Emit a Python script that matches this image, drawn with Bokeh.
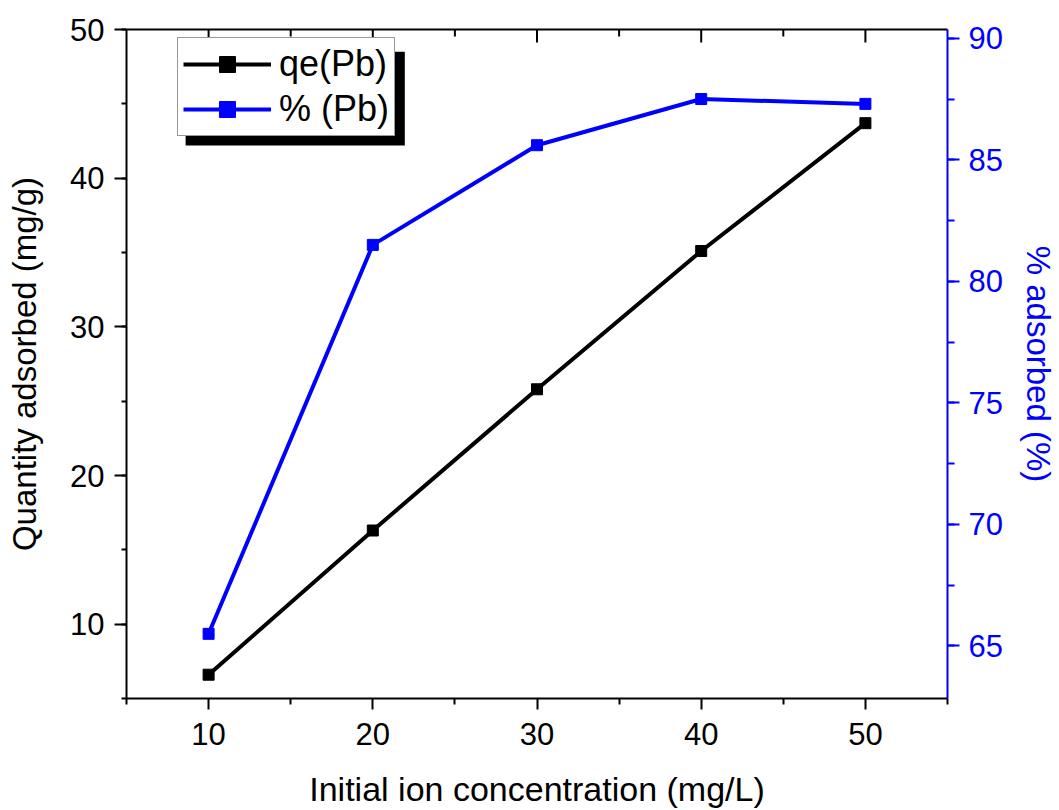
from bokeh.plotting import figure
from bokeh.models import (LinearAxis, Range1d, SingleIntervalTicker, FixedTicker,
                          Legend, LegendItem, BoxAnnotation)
from bokeh.embed import file_html
from bokeh.resources import INLINE

# ---- data ----
conc = [10, 20, 30, 40, 50]                 # Initial ion concentration (mg/L)
qe_pb = [6.6, 16.3, 25.8, 35.1, 43.7]       # Quantity adsorbed (mg/g)
pct_pb = [65.5, 81.5, 85.6, 87.5, 87.3]     # % adsorbed
x_major_ticks = [10, 20, 30, 40, 50]
x_minor_ticks = [5, 15, 25, 35, 45, 55]

FONT = "Liberation Sans"
BLUE = "#0000FF"
TICK_FS = "31px"
LABEL_FS = "34px"

X0, X1 = 5, 55
Y0, Y1 = 5, 50
FRAME_H = 810 - 29 - 111

p = figure(width=1059, height=810, output_backend="svg", toolbar_location=None,
           x_range=Range1d(X0, X1), y_range=Range1d(Y0, Y1),
           x_axis_location=None, y_axis_location=None,
           min_border_left=126, min_border_right=111,
           min_border_top=29, min_border_bottom=111)
p.extra_y_ranges = {"pct": Range1d(62.84, 90.36)}
p.outline_line_color = None
p.xgrid.visible = False
p.ygrid.visible = False
p.background_fill_color = "white"
p.border_fill_color = "white"


def style(ax, tick_in=0, tick_out=0, mtick_in=0, mtick_out=0, color="black"):
    ax.axis_line_color = color
    ax.axis_line_width = 2
    ax.major_tick_line_color = color
    ax.minor_tick_line_color = color
    ax.major_tick_line_width = 2
    ax.minor_tick_line_width = 2
    ax.major_tick_in = tick_in
    ax.major_tick_out = tick_out
    ax.minor_tick_in = mtick_in
    ax.minor_tick_out = mtick_out
    ax.major_label_text_font = FONT
    ax.major_label_text_font_size = TICK_FS
    ax.major_label_text_color = color
    ax.axis_label_text_font = FONT
    ax.axis_label_text_font_size = LABEL_FS
    ax.axis_label_text_font_style = "normal"
    ax.axis_label_text_color = color


bottom = LinearAxis(ticker=FixedTicker(ticks=x_major_ticks, minor_ticks=x_minor_ticks),
                    axis_label="Initial ion concentration (mg/L)")
style(bottom, tick_out=11, mtick_out=6)
bottom.major_label_standoff = 13
bottom.axis_label_standoff = 22
p.add_layout(bottom, "below")

# top frame line (no labels)
top = LinearAxis(ticker=FixedTicker(ticks=[], minor_ticks=[]))
style(top)
p.add_layout(top, "above")

# inward ticks on the top frame line, placed at the x tick values
unit = (Y1 - Y0) / FRAME_H
top_minor = x_minor_ticks[1:-1]
p.segment(x0=x_major_ticks, y0=[Y1] * len(x_major_ticks),
          x1=x_major_ticks, y1=[Y1 - 13 * unit] * len(x_major_ticks),
          line_color="black", line_width=2)
p.segment(x0=top_minor, y0=[Y1] * len(top_minor),
          x1=top_minor, y1=[Y1 - 7 * unit] * len(top_minor),
          line_color="black", line_width=2)

left = LinearAxis(ticker=SingleIntervalTicker(interval=10, num_minor_ticks=2),
                  axis_label="Quantity adsorbed (mg/g)")
style(left, tick_out=12, mtick_out=5)
left.axis_label_text_font_size = "33px"
left.major_label_standoff = 10
left.axis_label_standoff = 24
p.add_layout(left, "left")

right = LinearAxis(y_range_name="pct",
                   ticker=SingleIntervalTicker(interval=5, num_minor_ticks=2),
                   axis_label="% adsorbed (%)")
style(right, tick_out=12, mtick_out=7, color=BLUE)
right.axis_label_text_font_size = "33px"
right.major_label_standoff = 9
right.axis_label_standoff = 14
p.add_layout(right, "right")

# ---- series ----
l1 = p.line(conc, qe_pb, line_color="black", line_width=4)
m1 = p.scatter(conc, qe_pb, marker="square", size=11, fill_color="black",
               line_color="black")
l2 = p.line(conc, pct_pb, line_color=BLUE, line_width=4, y_range_name="pct")
m2 = p.scatter(conc, pct_pb, marker="square", size=11, fill_color=BLUE,
               line_color=BLUE, y_range_name="pct")

# ---- legend shadow (decoration) ----
shadow = BoxAnnotation(left=8.6, right=21.95, top=48.5, bottom=42.2,
                       fill_color="black", fill_alpha=1.0, line_color=None)
p.add_layout(shadow)

legend = Legend(items=[LegendItem(label="qe(Pb)", renderers=[l1, m1]),
                       LegendItem(label="% (Pb)", renderers=[l2, m2])],
                location=(51, 562))
legend.label_text_font = FONT
legend.label_text_font_size = "36px"
legend.label_text_color = "black"
legend.glyph_width = 88
legend.glyph_height = 40
legend.label_height = 40
legend.label_standoff = 8
legend.spacing = 3
legend.padding = 5
legend.margin = 0
legend.border_line_color = "#333333"
legend.border_line_width = 1.5
legend.background_fill_color = "white"
legend.background_fill_alpha = 1.0
p.add_layout(legend)

open("out.html", "w").write(file_html(p, INLINE))
